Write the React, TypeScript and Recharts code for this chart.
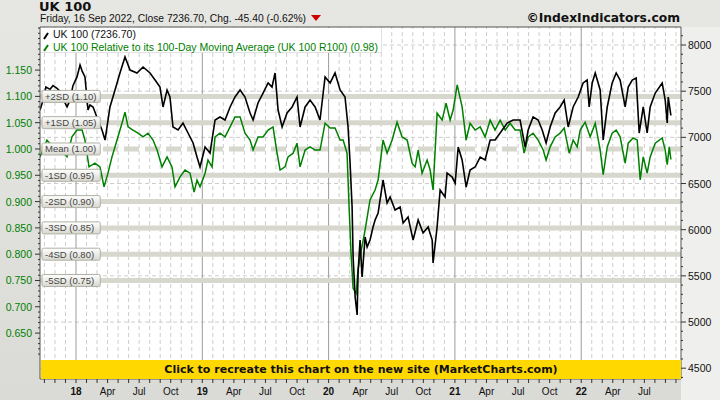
import { LineChart, Line, XAxis, YAxis, CartesianGrid, ReferenceLine, ReferenceArea } from 'recharts';

// UK 100 daily close (sampled), x = fractional year
const ukDates = [
  2017.715, 2017.739, 2017.762, 2017.794, 2017.818, 2017.85, 2017.873, 2017.897, 2017.929, 2017.952,
  2017.976, 2018.008, 2018.032, 2018.048, 2018.071, 2018.095, 2018.111, 2018.135, 2018.174, 2018.206,
  2018.23, 2018.269, 2018.309, 2018.348, 2018.388, 2018.428, 2018.483, 2018.531, 2018.586, 2018.626,
  2018.665, 2018.689, 2018.721, 2018.744, 2018.768, 2018.808, 2018.847, 2018.887, 2018.927, 2018.958,
  2018.982, 2019.022, 2019.061, 2019.101, 2019.14, 2019.18, 2019.22, 2019.259, 2019.299, 2019.338,
  2019.378, 2019.402, 2019.441, 2019.481, 2019.521, 2019.552, 2019.576, 2019.6, 2019.632, 2019.671,
  2019.711, 2019.75, 2019.774, 2019.814, 2019.853, 2019.893, 2019.932, 2019.972, 2020.012, 2020.051,
  2020.091, 2020.13, 2020.154, 2020.17, 2020.186, 2020.194, 2020.21, 2020.226, 2020.233, 2020.249,
  2020.265, 2020.289, 2020.305, 2020.328, 2020.352, 2020.368, 2020.392, 2020.431, 2020.463, 2020.487,
  2020.526, 2020.566, 2020.59, 2020.629, 2020.669, 2020.709, 2020.748, 2020.788, 2020.82, 2020.827,
  2020.859, 2020.883, 2020.922, 2020.938, 2020.978, 2021.002, 2021.026, 2021.057, 2021.089, 2021.12,
  2021.16, 2021.2, 2021.239, 2021.279, 2021.318, 2021.358, 2021.414, 2021.461, 2021.516, 2021.556,
  2021.58, 2021.619, 2021.659, 2021.691, 2021.722, 2021.754, 2021.794, 2021.833, 2021.865, 2021.897,
  2021.936, 2021.976, 2022.015, 2022.047, 2022.063, 2022.087, 2022.111, 2022.15, 2022.174, 2022.206,
  2022.245, 2022.277, 2022.308, 2022.348, 2022.372, 2022.404, 2022.435, 2022.459, 2022.491, 2022.522,
  2022.546, 2022.586, 2022.641, 2022.665, 2022.681, 2022.689, 2022.71,
];
const ukClose = [
  7296, 7400, 7545, 7520, 7560, 7530, 7500, 7420, 7330, 7400,
  7560, 7654, 7783, 7720, 7654, 7296, 7350, 7329, 7188, 7079,
  6971, 7329, 7513, 7697, 7870, 7729, 7697, 7762, 7697, 7621,
  7545, 7329, 7513, 7437, 7112, 7079, 7155, 7047, 6939, 6787,
  6679, 6895, 6830, 7188, 7220, 7188, 7329, 7437, 7513, 7437,
  7264, 7188, 7372, 7480, 7589, 7545, 7697, 7296, 7112, 7264,
  7329, 7437, 7112, 7329, 7404, 7329, 7188, 7654, 7589, 7697,
  7513, 7437, 7112, 6722, 6246, 5704, 5271, 5076, 5531, 5888,
  5487, 5921, 5812, 5888, 6029, 6105, 6181, 6538, 6289, 6354,
  6213, 6246, 6073, 6138, 5888, 6105, 5964, 6029, 5888, 5639,
  6029, 6430, 6354, 6614, 6570, 6505, 6895, 6755, 6462, 6646,
  6679, 6787, 6755, 6971, 6971, 7047, 7155, 7188, 7188, 6895,
  7079, 7220, 7188, 7079, 6939, 7112, 7264, 7329, 7404, 7112,
  7329, 7437, 7589, 7621, 7329, 7589, 7697, 7513, 6971, 7329,
  7589, 7697, 7621, 7329, 7545, 7621, 7643, 7047, 7329, 7047,
  7329, 7480, 7589, 7404, 7155, 7437, 7236.7,
];

// UK 100 relative to its 100-day moving average
const relDates = [
  2017.715, 2017.77, 2017.818, 2017.873, 2017.929, 2017.968, 2018.008, 2018.048, 2018.071, 2018.103,
  2018.15, 2018.19, 2018.222, 2018.253, 2018.285, 2018.325, 2018.364, 2018.388, 2018.412, 2018.451,
  2018.491, 2018.531, 2018.57, 2018.61, 2018.642, 2018.681, 2018.721, 2018.76, 2018.784, 2018.824,
  2018.863, 2018.903, 2018.935, 2018.958, 2018.982, 2019.022, 2019.045, 2019.077, 2019.101, 2019.14,
  2019.18, 2019.22, 2019.259, 2019.299, 2019.338, 2019.378, 2019.402, 2019.441, 2019.481, 2019.521,
  2019.56, 2019.592, 2019.616, 2019.655, 2019.679, 2019.719, 2019.75, 2019.774, 2019.814, 2019.853,
  2019.893, 2019.932, 2019.972, 2020.012, 2020.051, 2020.091, 2020.115, 2020.146, 2020.162, 2020.178,
  2020.194, 2020.218, 2020.233, 2020.249, 2020.289, 2020.328, 2020.368, 2020.392, 2020.431, 2020.463,
  2020.503, 2020.542, 2020.582, 2020.622, 2020.661, 2020.685, 2020.709, 2020.74, 2020.78, 2020.804,
  2020.827, 2020.859, 2020.899, 2020.93, 2020.962, 2020.986, 2021.018, 2021.057, 2021.089, 2021.12,
  2021.16, 2021.2, 2021.239, 2021.279, 2021.318, 2021.358, 2021.398, 2021.437, 2021.477, 2021.516,
  2021.548, 2021.58, 2021.619, 2021.659, 2021.699, 2021.722, 2021.754, 2021.794, 2021.833, 2021.865,
  2021.905, 2021.936, 2021.968, 2021.992, 2022.031, 2022.071, 2022.111, 2022.15, 2022.174, 2022.206,
  2022.245, 2022.277, 2022.308, 2022.348, 2022.372, 2022.411, 2022.443, 2022.467, 2022.491, 2022.522,
  2022.546, 2022.586, 2022.641, 2022.665, 2022.681, 2022.697, 2022.71,
];
const relValues = [
  0.985, 1.017, 1.004, 0.998, 0.985, 1.023, 1.036, 1.036, 1.017, 0.966,
  0.973, 0.966, 0.928, 0.954, 0.985, 1.017, 1.049, 1.07, 1.042, 1.036,
  1.03, 1.023, 1.03, 1.017, 0.998, 0.966, 0.985, 0.966, 0.928, 0.947,
  0.96, 0.954, 0.918, 0.941, 0.928, 0.954, 0.979, 0.966, 1.023, 1.03,
  1.023, 1.042, 1.061, 1.061, 1.03, 1.017, 0.998, 1.023, 1.023, 1.036,
  1.042, 0.992, 0.96, 0.966, 0.985, 0.992, 1.011, 0.966, 0.998, 1.004,
  0.998, 0.998, 1.049, 1.04, 1.04, 1.017, 1.017, 0.992, 0.89, 0.8,
  0.735, 0.725, 0.77, 0.795, 0.846, 0.903, 0.922, 0.941, 1.017, 0.992,
  1.017, 1.051, 1.023, 1.017, 0.973, 0.966, 0.998, 0.954, 0.979, 0.96,
  0.922, 1.068, 1.055, 1.087, 1.055, 1.074, 1.122, 1.08, 1.017, 1.049,
  1.036, 1.042, 1.023, 1.055, 1.036, 1.055, 1.036, 1.049, 1.036, 1.036,
  0.992, 1.023, 1.03, 1.017, 0.998, 0.979, 1.004, 1.023, 1.03, 1.04,
  0.992, 1.017, 1.004, 1.036, 1.051, 1.023, 1.049, 0.998, 0.951, 1.004,
  1.03, 1.036, 1.023, 0.973, 1.011, 1.021, 1.017, 0.941, 0.985, 0.954,
  0.985, 1.011, 1.021, 0.998, 0.97, 1.004, 0.98,
];

const bandValues = [1.1, 1.05, 1.0, 0.95, 0.9, 0.85, 0.8, 0.75];
const bandNames = ['+2SD', '+1SD', 'Mean', '-1SD', '-2SD', '-3SD', '-4SD', '-5SD'];

const ukTicks = [4500, 5000, 5500, 6000, 6500, 7000, 7500, 8000];
const relTicks = [0.65, 0.7, 0.75, 0.8, 0.85, 0.9, 0.95, 1.0, 1.05, 1.1, 1.15];
const quarterNames = ['', 'Apr', 'Jul', 'Oct'];
const years = [2017, 2018, 2019, 2020, 2021, 2022];

const X_MIN = 2017.715;
const X_MAX = 2022.79;
const REL_MIN = 0.5627;
const REL_MAX = 1.2319;
const UK_MIN = 4383;
const UK_MAX = 8195;

const ukData = ukDates.map((t, i) => ({ t, v: ukClose[i] }));
const relData = relDates.map((t, i) => ({ t, v: relValues[i] }));

const monthTicks: number[] = [];
years.forEach((y) => {
  for (let m = 0; m < 12; m++) {
    const t = y + m / 12;
    if (t >= X_MIN && t <= X_MAX) monthTicks.push(t);
  }
});
const yearTicks = monthTicks.filter((t) => Math.abs(t - Math.round(t)) < 1e-6);
const otherMonths = monthTicks.filter((t) => Math.abs(t - Math.round(t)) >= 1e-6);

const relMinor: number[] = [];
for (let i = 61; i <= 123; i++) relMinor.push(i / 100);
const ukMinor: number[] = [];
for (let i = 44; i <= 81; i++) ukMinor.push(i * 100);

const FONT = '"Liberation Sans", Arial, sans-serif';
const BOLD_FONT = '"DejaVu Sans", Verdana, sans-serif';
const GREEN = '#008000';

function monthOf(v: number) {
  const yr = Math.floor(v + 1e-6);
  return { yr, m: Math.round((v - yr) * 12) };
}

function XTick(p: any) {
  const v = p.payload.value;
  const { yr, m } = monthOf(v);
  let label = '';
  // labels too close to the plot edges are dropped
  if (v > X_MIN + 0.08 && v < X_MAX - 0.08) {
    if (m === 0) label = String(yr % 100);
    else if (m % 3 === 0) label = quarterNames[m / 3];
  }
  return (
    <g>
      <line x1={p.x} x2={p.x} y1={p.y} y2={p.y + 4} stroke="#333" />
      {label && (
        <text x={p.x} y={p.y + 15.5} textAnchor="middle" fontSize={10} fontFamily={FONT}
          fontWeight={m === 0 ? 'bold' : 'normal'} fill="#111">{label}</text>
      )}
    </g>
  );
}

function RelTick(p: any) {
  const v = p.payload.value;
  const major = relTicks.some((r) => Math.abs(r - v) < 1e-6);
  return (
    <g>
      <line x1={p.x - (major ? 5 : 2)} x2={p.x} y1={p.y} y2={p.y} stroke="#333" />
      {major && (
        <text x={p.x - 8} y={p.y + 4} textAnchor="end" fontSize={10.5} fontFamily={FONT} fill={GREEN}>
          {v.toFixed(3)}
        </text>
      )}
    </g>
  );
}

function UkTick(p: any) {
  const v = p.payload.value;
  const major = ukTicks.includes(v);
  return (
    <g>
      <line x1={p.x} x2={p.x + (major ? 5 : 2)} y1={p.y} y2={p.y} stroke="#333" />
      {major && (
        <text x={p.x + 7} y={p.y + 4} textAnchor="start" fontSize={10.5} fontFamily={FONT} fill="#111">
          {v}
        </text>
      )}
    </g>
  );
}

function BandLabel({ viewBox, text }: { viewBox?: any; text: string }) {
  if (!viewBox) return null;
  const w = text.length * 4.75 + 6;
  return (
    <g>
      <rect x={viewBox.x + 2} y={viewBox.y - 6} width={w} height={12} rx={1.5}
        fill="url(#sdLabelFill)" stroke="#b0b0a6" strokeWidth={1} />
      <text x={viewBox.x + 5} y={viewBox.y + 3.5} fontSize={9.5} fontFamily={FONT} fill="#444">{text}</text>
    </g>
  );
}

function LegendIcon({ color }: { color: string }) {
  return (
    <svg width={6} height={9} style={{ marginRight: 4, verticalAlign: 'middle' }}>
      <line x1={1} y1={8} x2={5} y2={2} stroke={color} strokeWidth={2} />
    </svg>
  );
}

export default function App() {
  return (
    <div
      style={{
        position: 'absolute', left: 0, top: 0, width: 720, height: 400, overflow: 'hidden',
        background: 'linear-gradient(#e6e6e2, #dadad6)', fontFamily: FONT,
      }}
    >
      <svg width={0} height={0} style={{ position: 'absolute' }}>
        <defs>
          <linearGradient id="sdLabelFill" x1="0" y1="0" x2="0" y2="1">
            <stop offset="0" stopColor="#ffffff" />
            <stop offset="1" stopColor="#d8d8d0" />
          </linearGradient>
        </defs>
      </svg>
      <div style={{ position: 'absolute', left: 681, top: 27, width: 39, height: 373, background: '#efefed' }} />
      <div style={{ position: 'absolute', left: 39, top: 0, height: 13, fontSize: 13, lineHeight: '13px', fontWeight: 'bold', color: '#111', fontFamily: BOLD_FONT }}>
        UK 100
      </div>
      <div style={{ position: 'absolute', left: 40, top: 13, height: 12, fontSize: 10.3, lineHeight: '12px', color: '#111', whiteSpace: 'nowrap' }}>
        Friday, 16 Sep 2022, Close 7236.70, Chg. -45.40 (-0.62%)
        <svg width={12} height={8} style={{ marginLeft: 4 }}>
          <polygon points="1,1 11,1 6,7" fill="#d00000" />
        </svg>
      </div>
      <div style={{ position: 'absolute', right: 40, top: 11, fontSize: 12.3, lineHeight: '14px', fontWeight: 'bold', color: '#111', fontFamily: BOLD_FONT }}>
        ©IndexIndicators.com
      </div>

      <div style={{ position: 'absolute', left: 0, top: 0 }}>
        <LineChart width={720} height={400} margin={{ top: 27, right: 0, bottom: 0, left: 0 }}>
          <CartesianGrid fill="#ffffff" horizontal={false} vertical={false} />
          <XAxis type="number" dataKey="t" domain={[X_MIN, X_MAX]} allowDataOverflow ticks={monthTicks}
            interval={0} tick={<XTick />} tickLine={false} axisLine={false} tickSize={0} tickMargin={0} height={21} />
          <YAxis yAxisId="rel" orientation="left" width={40} type="number" domain={[REL_MIN, REL_MAX]} allowDataOverflow
            ticks={relMinor} interval={0} tick={<RelTick />} tickLine={false} axisLine={false} tickSize={0} tickMargin={0} />
          <YAxis yAxisId="uk" orientation="right" width={39} type="number" domain={[UK_MIN, UK_MAX]} allowDataOverflow
            ticks={ukMinor} interval={0} tick={<UkTick />} tickLine={false} axisLine={false} tickSize={0} tickMargin={0} />

          {otherMonths.map((t) => (
            <ReferenceLine key={'m' + t} x={t} yAxisId="rel" stroke="#cdcdcd" strokeDasharray="4 3" zIndex={-80} />
          ))}
          {ukTicks.map((v) => (
            <ReferenceLine key={'h' + v} y={v} yAxisId="uk" stroke="#cdcdcd" strokeDasharray="4 3" zIndex={-80} />
          ))}
          {yearTicks.map((t) => (
            <ReferenceLine key={'y' + t} x={t} yAxisId="rel" stroke="#9c9c9c" zIndex={-70} />
          ))}
          {bandValues.map((v, i) => (
            <ReferenceLine key={'b' + v} y={v} yAxisId="rel" stroke="#d7d7cd" strokeWidth={5}
              strokeDasharray={bandNames[i] === 'Mean' ? '15 6' : undefined} zIndex={-50} />
          ))}

          <Line data={relData} dataKey="v" yAxisId="rel" type="linear" stroke={GREEN} strokeWidth={1.5}
            dot={false} isAnimationActive={false} />
          <Line data={ukData} dataKey="v" yAxisId="uk" type="linear" stroke="#000000" strokeWidth={1.6}
            dot={false} isAnimationActive={false} />

          {bandValues.map((v, i) => (
            <ReferenceLine key={'l' + v} y={v} yAxisId="rel" stroke="none" strokeWidth={0} zIndex={1500}
              label={(p: any) => <BandLabel viewBox={p.viewBox} text={`${bandNames[i]} (${v.toFixed(2)})`} />} />
          ))}
          <ReferenceArea x1={X_MIN} x2={X_MAX} y1={REL_MIN} y2={REL_MAX} yAxisId="rel" fill="none"
            stroke="#555" strokeWidth={1} fillOpacity={0} zIndex={1600} />
        </LineChart>
      </div>

      <div style={{ position: 'absolute', left: 41, top: 28, width: 338, height: 24, background: '#fff', borderRight: '1px solid #e2e2e2', borderBottom: '1px solid #e2e2e2', fontSize: 10.5, lineHeight: '12.5px', paddingLeft: 2 }}>
        <div style={{ color: '#111', whiteSpace: 'nowrap' }}><LegendIcon color="#000" />UK 100 (7236.70)</div>
        <div style={{ color: GREEN, whiteSpace: 'nowrap' }}><LegendIcon color={GREEN} />UK 100 Relative to its 100-Day Moving Average (UK 100 R100) (0.98)</div>
      </div>

      <div style={{ position: 'absolute', left: 41, top: 360, width: 640, height: 19, background: '#ffd800', textAlign: 'center', fontSize: 11, fontWeight: 'bold', lineHeight: '19px', color: '#111', fontFamily: BOLD_FONT }}>
        Click to recreate this chart on the new site (MarketCharts.com)
      </div>
    </div>
  );
}
